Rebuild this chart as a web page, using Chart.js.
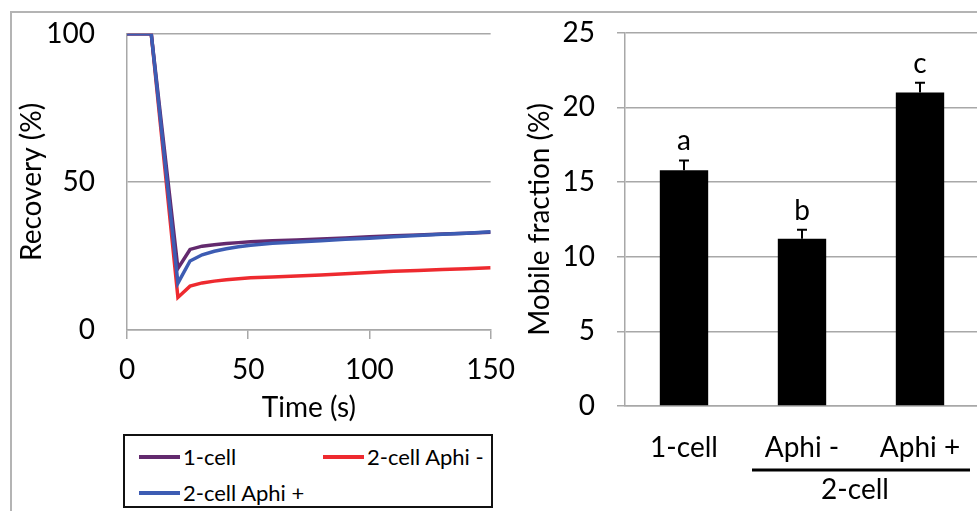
<!DOCTYPE html>
<html>
<head>
<meta charset="utf-8">
<script src="https://cdn.jsdelivr.net/npm/chart.js@4.4.0/dist/chart.umd.min.js"></script>
<style>
    html, body { margin: 0; padding: 0; background: #fff; overflow: hidden; }
    body { width: 977px; height: 511px; position: relative; font-family: Lato, sans-serif; }
    #frame { position: absolute; left: 10px; top: 11px; width: 990px; height: 520px; border-top: 2px solid #b4b4b4; border-left: 2px solid #b4b4b4; }
    #recoveryChart { position: absolute; left: 0; top: -15px; }
    #mobileChart { position: absolute; left: 515px; top: -6px; }
    #legend { position: absolute; left: 123px; top: 434px; width: 366px; height: 70px; border: 2px solid #111; }
    .item { position: absolute; display: flex; align-items: center; font-size: 22px; color: #000; white-space: nowrap; }
    .swatch { width: 41px; height: 4px; margin-right: 3px; }
</style>
</head>
<body>
<div id="frame"></div>
<canvas id="recoveryChart" width="529" height="445"></canvas>
<canvas id="mobileChart" width="470" height="517"></canvas>
<div id="legend"></div>
<script>
// Recovery curves (left panel)
const times = [0, 5, 10, 21, 26, 31, 36, 41, 46, 51, 60, 70, 80, 90, 100, 110, 120, 130, 140, 150];
const oneCell = [100, 100, 100, 20.8, 27.2, 28.3, 28.8, 29.2, 29.5, 29.8, 30.1, 30.4, 30.7, 31.1, 31.5, 31.8, 32.1, 32.4, 32.7, 33.0];
const aphiMinus = [100, 100, 100, 11.0, 14.8, 15.9, 16.5, 17.0, 17.3, 17.6, 17.9, 18.2, 18.6, 19.0, 19.4, 19.8, 20.1, 20.4, 20.7, 21.0];
const aphiPlus = [100, 100, 100, 15.8, 23.3, 25.4, 26.6, 27.4, 28.1, 28.6, 29.3, 29.7, 30.1, 30.6, 31.0, 31.5, 31.9, 32.3, 32.7, 33.2];
const seriesNames = ['1-cell', '2-cell Aphi -', '2-cell Aphi +'];
const seriesColors = ['#632a6e', '#ee2a2f', '#3d5cb3'];
const timeTicks = [0, 50, 100, 150];
const recoveryTicks = [0, 50, 100];

// Mobile fraction (right panel)
const groups = ['1-cell', 'Aphi -', 'Aphi +'];
const mobileFraction = [15.8, 11.2, 21.0];
const mobileError = [0.65, 0.6, 0.65];
const sigLetters = ['a', 'b', 'c'];
const groupLabel = '2-cell';
const fractionTicks = [0, 5, 10, 15, 20, 25];

const gridColor = '#a8a8a8';
const fontSize = 28;

Chart.defaults.font.family = "Lato, sans-serif";
Chart.defaults.color = '#000';

function toPoints(values) {
    return times.map((t, i) => ({ x: t, y: values[i] }));
}

// Left: FRAP recovery curves
new Chart(document.getElementById('recoveryChart'), {
    type: 'line',
    data: {
        datasets: [
            { label: seriesNames[0], data: toPoints(oneCell), borderColor: seriesColors[0], order: 1 },
            { label: seriesNames[1], data: toPoints(aphiMinus), borderColor: seriesColors[1], order: 2 },
            { label: seriesNames[2], data: toPoints(aphiPlus), borderColor: seriesColors[2], order: 0 }
        ]
    },
    options: {
        responsive: false,
        animation: false,
        layout: { padding: { top: 15, right: 29, left: 0, bottom: 0 } },
        plugins: { legend: { display: false }, tooltip: { enabled: false } },
        elements: {
            point: { radius: 0 },
            line: { borderWidth: 3.5, tension: 0 }
        },
        scales: {
            x: {
                type: 'linear',
                min: 0,
                max: 150,
                afterBuildTicks: function (scale) {
                    scale.ticks = timeTicks.map(v => ({ value: v }));
                },
                ticks: { padding: 14, font: { size: fontSize } },
                grid: { drawOnChartArea: false, tickLength: 9, color: gridColor, lineWidth: 1.5 },
                border: { color: gridColor, width: 1.5 },
                title: { display: true, text: 'Time (s)', font: { size: fontSize }, padding: { top: 0, bottom: 5 } },
                afterFit: function (scale) { scale.height = 100; }
            },
            y: {
                min: 0,
                max: 100,
                afterBuildTicks: function (scale) {
                    scale.ticks = recoveryTicks.map(v => ({ value: v }));
                },
                ticks: { padding: 32, font: { size: fontSize } },
                grid: { drawTicks: false, color: gridColor, lineWidth: 1.5 },
                border: { color: gridColor, width: 1.5 },
                title: { display: true, text: 'Recovery (%)', font: { size: fontSize }, padding: { top: 15, bottom: 0 } },
                afterFit: function (scale) { scale.width = 127; }
            }
        }
    }
});

// Legend for the left panel, boxed like the original
const legendSlots = [[14, 7], [198, 7], [14, 43]];
const legendEl = document.getElementById('legend');
seriesNames.forEach((name, i) => {
    const item = document.createElement('div');
    item.className = 'item';
    item.style.left = legendSlots[i][0] + 'px';
    item.style.top = legendSlots[i][1] + 'px';
    item.innerHTML = '<span class="swatch" style="background:' + seriesColors[i] + '"></span>' + name;
    legendEl.appendChild(item);
});

// Error bars, significance letters and the 2-cell bracket
const errorBarsPlugin = {
    id: 'errorBars',
    afterDatasetsDraw(chart) {
        const { ctx, scales: { x, y } } = chart;
        const meta = chart.getDatasetMeta(0);
        ctx.save();
        ctx.strokeStyle = '#000';
        ctx.fillStyle = '#000';
        ctx.lineWidth = 2;
        ctx.font = fontSize + 'px Lato';
        ctx.textAlign = 'center';
        ctx.textBaseline = 'alphabetic';
        meta.data.forEach((bar, i) => {
            const base = y.getPixelForValue(mobileFraction[i]);
            const top = y.getPixelForValue(mobileFraction[i] + mobileError[i]);
            ctx.beginPath();
            ctx.moveTo(bar.x, base);
            ctx.lineTo(bar.x, top);
            ctx.moveTo(bar.x - 5, top);
            ctx.lineTo(bar.x + 5, top);
            ctx.stroke();
            ctx.fillText(sigLetters[i], bar.x, top - 10);
        });
        const x1 = x.getPixelForValue(1) - 50;
        const x2 = x.getPixelForValue(2) + 50;
        const ly = y.bottom + 64;
        ctx.lineWidth = 3;
        ctx.beginPath();
        ctx.moveTo(x1, ly);
        ctx.lineTo(x2, ly);
        ctx.stroke();
        ctx.textBaseline = 'middle';
        ctx.fillText(groupLabel, (x1 + x2) / 2 - 6, ly + 20);
        ctx.restore();
    }
};

// Right: mobile fraction bars
new Chart(document.getElementById('mobileChart'), {
    type: 'bar',
    data: {
        labels: groups,
        datasets: [{
            data: mobileFraction,
            backgroundColor: '#000',
            borderColor: '#000',
            categoryPercentage: 1,
            barPercentage: 0.41
        }]
    },
    options: {
        responsive: false,
        animation: false,
        layout: { padding: { top: 25, right: 6, left: 0, bottom: 0 } },
        plugins: { legend: { display: false }, tooltip: { enabled: false } },
        scales: {
            x: {
                ticks: { padding: 17, font: { size: fontSize } },
                grid: { display: false },
                border: { color: gridColor, width: 1.5 },
                afterFit: function (scale) { scale.height = 105; }
            },
            y: {
                min: 0,
                max: 25,
                afterBuildTicks: function (scale) {
                    scale.ticks = fractionTicks.map(v => ({ value: v }));
                },
                ticks: { padding: 22, font: { size: fontSize } },
                grid: { color: gridColor, lineWidth: 1.5, tickLength: 8 },
                border: { color: gridColor, width: 1.5 },
                title: { display: true, text: 'Mobile fraction (%)', font: { size: fontSize }, padding: { top: 8, bottom: 0 } },
                afterFit: function (scale) { scale.width = 110; }
            }
        }
    },
    plugins: [errorBarsPlugin]
});
</script>
</body>
</html>
